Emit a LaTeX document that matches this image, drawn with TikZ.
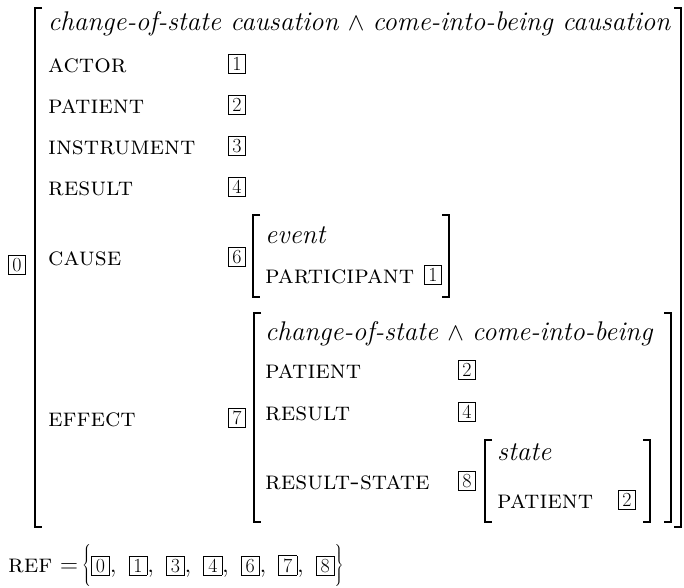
\documentclass[tikz,border=0pt]{standalone}
\usepackage{tikz}

\newcommand\reftag[1]{{\fboxsep=2.5pt\fboxrule=0.6pt\fbox{\fontsize{20}{20}\selectfont\makebox[12.5pt]{#1}}}}

\begin{document}
\begin{tikzpicture}
  [x=1pt,y=-1pt,
   every node/.style={anchor=base west,inner sep=0pt,font=\fontsize{26}{30}\selectfont},
   head/.style={font=\fontsize{27}{30}\selectfont\itshape},
   tag/.style={draw,line width=.6pt,inner xsep=4pt,inner ysep=2.5pt,yshift=1.5pt,font=\fontsize{20}{20}\selectfont},
   brk/.style={line width=2.3pt}]
  \useasboundingbox (0,0) rectangle (684,587);

  % outer matrix
  \node[tag] (t0) at (8,273) {0};
  \draw[brk] (42,8) -- (35,8) -- (35,527) -- (42,527);
  \draw[brk] (674,8) -- (681,8) -- (681,527) -- (674,527);
  \node[head] (type) at (48,30) {change-of-state causation \upshape$\wedge$ \itshape come-into-being causation};
  \node (actor) at (48,72)  {\textsc{actor}};
  \node (patient) at (48,113) {\textsc{patient}};
  \node (instr) at (48,154) {\textsc{instrument}};
  \node (result) at (48,195) {\textsc{result}};
  \node (cause) at (48,265) {\textsc{cause}};
  \node (effect) at (48,426) {\textsc{effect}};
  \node[tag] (t1) at (228,72)  {1};
  \node[tag] (t2) at (228,113) {2};
  \node[tag] (t3) at (228,154) {3};
  \node[tag] (t4) at (228,195) {4};
  \node[tag] (t6) at (228,265) {6};
  \node[tag] (t7) at (228,426) {7};

  % cause
  \draw[brk] (260,215) -- (253,215) -- (253,297) -- (260,297);
  \draw[brk] (442,215) -- (449,215) -- (449,297) -- (442,297);
  \node[head] (ctype) at (265,243) {event};
  \node (cpart) at (265,283) {\textsc{participant}};
  \node[tag] (ct1) at (424,283) {1};

  % effect
  \draw[brk] (261,313) -- (254,313) -- (254,522) -- (261,522);
  \draw[brk] (664,313) -- (671,313) -- (671,522) -- (664,522);
  \node[head] (etype) at (265,340) {change-of-state \upshape$\wedge$ \itshape come-into-being};
  \node (epatient) at (265,378) {\textsc{patient}};
  \node (eresult) at (265,420) {\textsc{result}};
  \node (estate) at (265,489) {\textsc{result-state}};
  \node[tag] (et2) at (458,378) {2};
  \node[tag] (et4) at (458,420) {4};
  \node[tag] (et8) at (458,489) {8};

  % result state
  \draw[brk] (492,440) -- (485,440) -- (485,522) -- (492,522);
  \draw[brk] (643,440) -- (650,440) -- (650,522) -- (643,522);
  \node[head] (stype) at (497,460) {state};
  \node (spatient) at (497,508) {\textsc{patient}};
  \node[tag] (st2) at (618,508) {2};

  \node (ref) at (8,572) {\textsc{ref} ${=}\left\{\vphantom{\rule[-14pt]{0pt}{31pt}}\reftag{0},\ \reftag{1},\ \reftag{3},\ \reftag{4},\ \reftag{6},\ \reftag{7},\ \reftag{8}\right\}$};

\end{tikzpicture}
\end{document}
